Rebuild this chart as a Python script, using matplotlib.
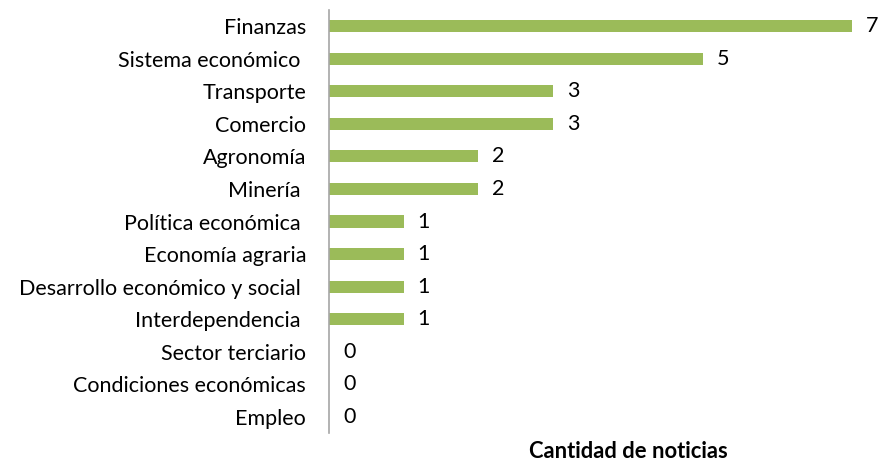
import matplotlib
matplotlib.use("Agg")
import matplotlib.pyplot as plt

categories = ["Finanzas", "Sistema económico ", "Transporte", "Comercio", "Agronomía",
              "Minería ", "Política económica ", "Economía agraria",
              "Desarrollo económico y social ", "Interdependencia ",
              "Sector terciario", "Condiciones económicas", "Empleo"]
values = [7, 5, 3, 3, 2, 2, 1, 1, 1, 1, 0, 0, 0]
xlabel = "Cantidad de noticias"

plt.rcParams['font.family'] = ['Lato', 'DejaVu Sans']

W, H = 884, 462
fig = plt.figure(figsize=(W/100, H/100), dpi=100)
ax = fig.add_axes([329/W, (H-433)/H, (852-329)/W, 423/H])

ypos = list(range(len(categories)))
ax.barh(ypos, values, height=0.37, color="#9BBB59")
ax.set_xlim(0, 7)
ax.set_ylim(len(categories)-0.5, -0.5)
ax.set_yticks(ypos)
ax.set_yticklabels(categories, fontsize=15.5, color="#000000")
ax.tick_params(axis='y', length=0, pad=16.5)
ax.set_xticks([])
for s in ["top", "right", "bottom"]:
    ax.spines[s].set_visible(False)
ax.spines["left"].set_color("#A6A6A6")
ax.spines["left"].set_linewidth(1.2)

for y, v in zip(ypos, values):
    ax.annotate(str(v), xy=(v, y), xytext=(10, 0), textcoords="offset points",
                ha="left", va="center", fontsize=15.5, annotation_clip=False)

fig.text(628/W, 1-452/H, xlabel, ha="center", va="center", fontsize=15.8, fontweight="bold")

fig.savefig("out.png", dpi=100)
